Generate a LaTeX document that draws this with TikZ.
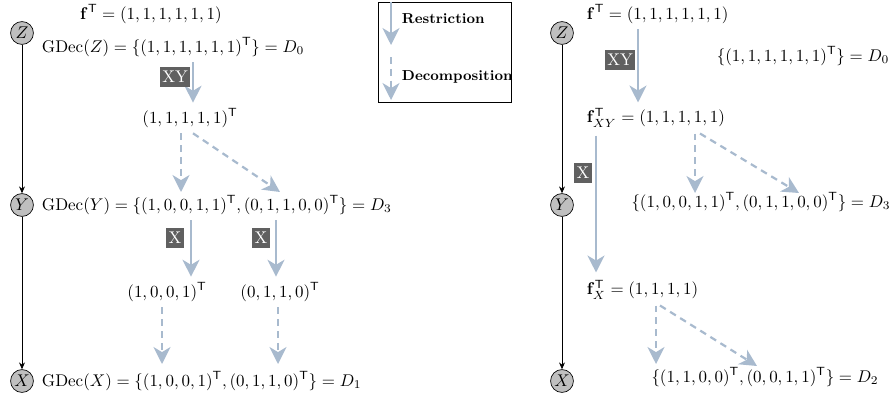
\documentclass[tikz,border=0pt]{standalone}
\usepackage{amsmath}
\usetikzlibrary{arrows.meta,calc}
\definecolor{restrcol}{RGB}{168,186,206}
\definecolor{tagcol}{RGB}{96,96,96}
\newcommand{\Tp}{^{\mathsf{T}}}
\tikzset{var/.style={circle,draw,fill=black!25,inner sep=0pt,minimum size=13.5pt},
  restr/.style={restrcol,line width=1.3pt,-{Stealth[length=10pt,width=10pt,inset=3pt]}},
  decomp/.style={restr,dash pattern=on 4pt off 3pt},
  tag/.style={fill=tagcol,text=white,inner xsep=1.5pt,inner ysep=2.5pt},
  order/.style={-{Stealth[length=4pt,width=3.5pt]}}}
\begin{document}
\begin{tikzpicture}[x=0.59pt,y=-0.59pt]
\useasboundingbox (0,0) rectangle (896,394);
% left: generalised decompositions
\node[var] (zl) at (22,33) {$Z$};\node[var] (yl) at (22,205) {$Y$};\node[var] (xl) at (22,381) {$X$};
\draw[order] (zl)--(yl);\draw[order] (yl)--(xl);
\node (fl) at (151,14) {$\mathbf{f}\Tp=(1,1,1,1,1,1)$};
\node[right] (gz) at (36,47) {$\mathrm{GDec}(Z)=\{(1,1,1,1,1,1)\Tp\}=D_0$};
\node (v1) at (190,118) {$(1,1,1,1,1)\Tp$};
\node[right] (gy) at (36,205) {$\mathrm{GDec}(Y)=\{(1,0,0,1,1)\Tp,(0,1,1,0,0)\Tp\}=D_3$};
\node (v2) at (167,292) {$(1,0,0,1)\Tp$};\node (v3) at (280,292) {$(0,1,1,0)\Tp$};
\node[right] (gx) at (36,381) {$\mathrm{GDec}(X)=\{(1,0,0,1)\Tp,(0,1,1,0)\Tp\}=D_1$};
\coordinate (ly1) at (181,192);\coordinate (ly2) at (280,192);
\coordinate (lx1) at (162,364);\coordinate (lx2) at (278,364);
\draw[restr] ($(gz.south -| v1.north)+(3,0)$)--($(v1.north)+(3,0)$);
\node[tag] at (175,77) {XY};
\draw[decomp] (v1.south -| ly1)--(ly1);\draw[decomp] ($(v1.south)+(3,0)$)--(ly2);
\draw[restr] ($(gy.south -| v2.north)+(24,0)$)--($(v2.north)+(24,0)$);
\draw[restr] ($(gy.south -| v3.north)+(-4,0)$)--($(v3.north)+(-4,0)$);
\node[tag] at (175,238) {X};\node[tag] at (261,238) {X};
\draw[decomp] (v2.south -| lx1)--(lx1);\draw[decomp] (v3.south -| lx2)--(lx2);
% legend
\draw (378,2) rectangle (511,102);
\coordinate (r0) at (391,2);\coordinate (r1) at (391,45);\coordinate (d0) at (391,57);\coordinate (d1) at (391,100);
\draw[restr] (r0)--(r1);\draw[decomp] (d0)--(d1);
\node[right,font=\fontsize{8.5}{10}\selectfont\bfseries] (lr) at (396,19) {Restriction};
\node[right,font=\fontsize{8.5}{10}\selectfont\bfseries] (ld) at (396,77) {Decomposition};
% right: restrictions
\node[var] (zr) at (562,33) {$Z$};\node[var] (yr) at (562,205) {$Y$};\node[var] (xr) at (562,381) {$X$};
\draw[order] (zr)--(yr);\draw[order] (yr)--(xr);
\node[right] (fr) at (581,14) {$\mathbf{f}\Tp=(1,1,1,1,1,1)$};
\node (dr0) at (803,56) {$\{(1,1,1,1,1,1)\Tp\}=D_0$};
\node[right] (fxy) at (581,118) {$\mathbf{f}\Tp_{XY}=(1,1,1,1,1)$};
\node (dr3) at (761,202) {$\{(1,0,0,1,1)\Tp,(0,1,1,0,0)\Tp\}=D_3$};
\node[right] (fx) at (581,290) {$\mathbf{f}\Tp_X=(1,1,1,1)$};
\node (dr2) at (765,377) {$\{(1,1,0,0)\Tp,(0,0,1,1)\Tp\}=D_2$};
\coordinate (ry1) at (695,193);\coordinate (ry2) at (799,193);
\coordinate (rx1) at (656,364);\coordinate (rx2) at (757,366);
\draw[restr] ($(fr.south west)+(57,0)$)--($(fxy.north west)+(57,0)$);
\node[tag] at (620,60) {XY};
\draw[restr] ($(fxy.south west)+(15,2)$)--($(fx.north west)+(15,-2)$);
\node[tag] at (583,173) {X};
\draw[decomp] (fxy.south -| ry1)--(ry1);\draw[decomp] ($(fxy.south -| ry1)+(5,0)$)--(ry2);
\draw[decomp] (fx.south -| rx1)--(rx1);\draw[decomp] ($(fx.south -| rx1)+(4,0)$)--(rx2);
\end{tikzpicture}
\end{document}
